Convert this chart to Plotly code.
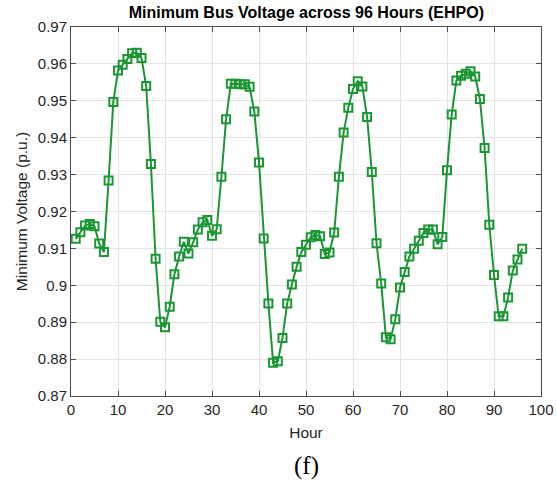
import plotly.graph_objects as go

# Hourly minimum bus voltage over the 96-hour horizon (EHPO case)
hours = list(range(1, 97))
min_voltage = [
    0.9126, 0.9144, 0.9162, 0.9166, 0.9160, 0.9113, 0.9090, 0.9284, 0.9497, 0.9582,
    0.9598, 0.9613, 0.9629, 0.9630, 0.9616, 0.9540, 0.9329, 0.9072, 0.8901, 0.8886,
    0.8942, 0.9030, 0.9078, 0.9118, 0.9086, 0.9117, 0.9151, 0.9171, 0.9177, 0.9134,
    0.9152, 0.9294, 0.9450, 0.9546, 0.9546, 0.9545, 0.9545, 0.9538, 0.9471, 0.9333,
    0.9127, 0.8951, 0.8790, 0.8794, 0.8857, 0.8951, 0.9002, 0.9050, 0.9090, 0.9110,
    0.9130, 0.9136, 0.9133, 0.9085, 0.9089, 0.9143, 0.9294, 0.9414, 0.9481, 0.9532,
    0.9553, 0.9539, 0.9456, 0.9307, 0.9114, 0.9005, 0.8859, 0.8854, 0.8908, 0.8994,
    0.9036, 0.9078, 0.9099, 0.9121, 0.9142, 0.9151, 0.9151, 0.9111, 0.9131, 0.9312,
    0.9463, 0.9555, 0.9568, 0.9573, 0.9580, 0.9566, 0.9505, 0.9372, 0.9164, 0.9028,
    0.8916, 0.8916, 0.8967, 0.9040, 0.9070, 0.9099,
]

x_ticks = list(range(0, 101, 10))
y_ticks = [0.87, 0.88, 0.89, 0.90, 0.91, 0.92, 0.93, 0.94, 0.95, 0.96, 0.97]
y_tick_text = ["0.87", "0.88", "0.89", "0.9", "0.91", "0.92", "0.93", "0.94", "0.95", "0.96", "0.97"]

green = "rgb(28,150,52)"
axis_color = "#4d4d4d"
grid_color = "#e3e3e3"
font_family = "Liberation Sans, Arial, sans-serif"

fig = go.Figure()
fig.add_trace(go.Scatter(
    x=hours,
    y=min_voltage,
    mode="lines+markers",
    line=dict(color=green, width=2),
    marker=dict(symbol="square-open", size=8, color=green, line=dict(color=green, width=2)),
    showlegend=False,
))

axis_common = dict(
    showline=True, linecolor=axis_color, linewidth=1, mirror="ticks",
    ticks="inside", ticklen=5, tickcolor=axis_color,
    showgrid=True, gridcolor=grid_color, gridwidth=1,
    zeroline=False, automargin=False, ticklabeloverflow="allow",
    tickfont=dict(family=font_family, size=15, color="#262626"),
)

fig.update_xaxes(
    range=[0, 100], tickvals=x_ticks,
    title=dict(text="Hour", font=dict(family=font_family, size=15.5, color="#262626"), standoff=10),
    **axis_common,
)
fig.update_yaxes(
    range=[0.87, 0.97], tickvals=y_ticks, ticktext=y_tick_text,
    title=dict(text="Minimum Voltage (p.u.)", font=dict(family=font_family, size=15.5, color="#262626"), standoff=6),
    **axis_common,
)

fig.update_layout(
    width=557, height=483,
    margin=dict(l=71, r=16, t=27, b=87),
    paper_bgcolor="white", plot_bgcolor="white",
    title=dict(
        text="<b>Minimum Bus Voltage across 96 Hours (EHPO)</b>",
        font=dict(family=font_family, size=16, color="black"),
        x=0.55, xanchor="center", y=0.975, yanchor="middle",
    ),
    annotations=[dict(
        text="(f)", xref="paper", yref="paper", x=0.5, y=-0.19,
        xanchor="center", yanchor="middle", showarrow=False,
        font=dict(family="Liberation Serif, Times New Roman, serif", size=25, color="black"),
    )],
)

fig.write_html("out.html")
